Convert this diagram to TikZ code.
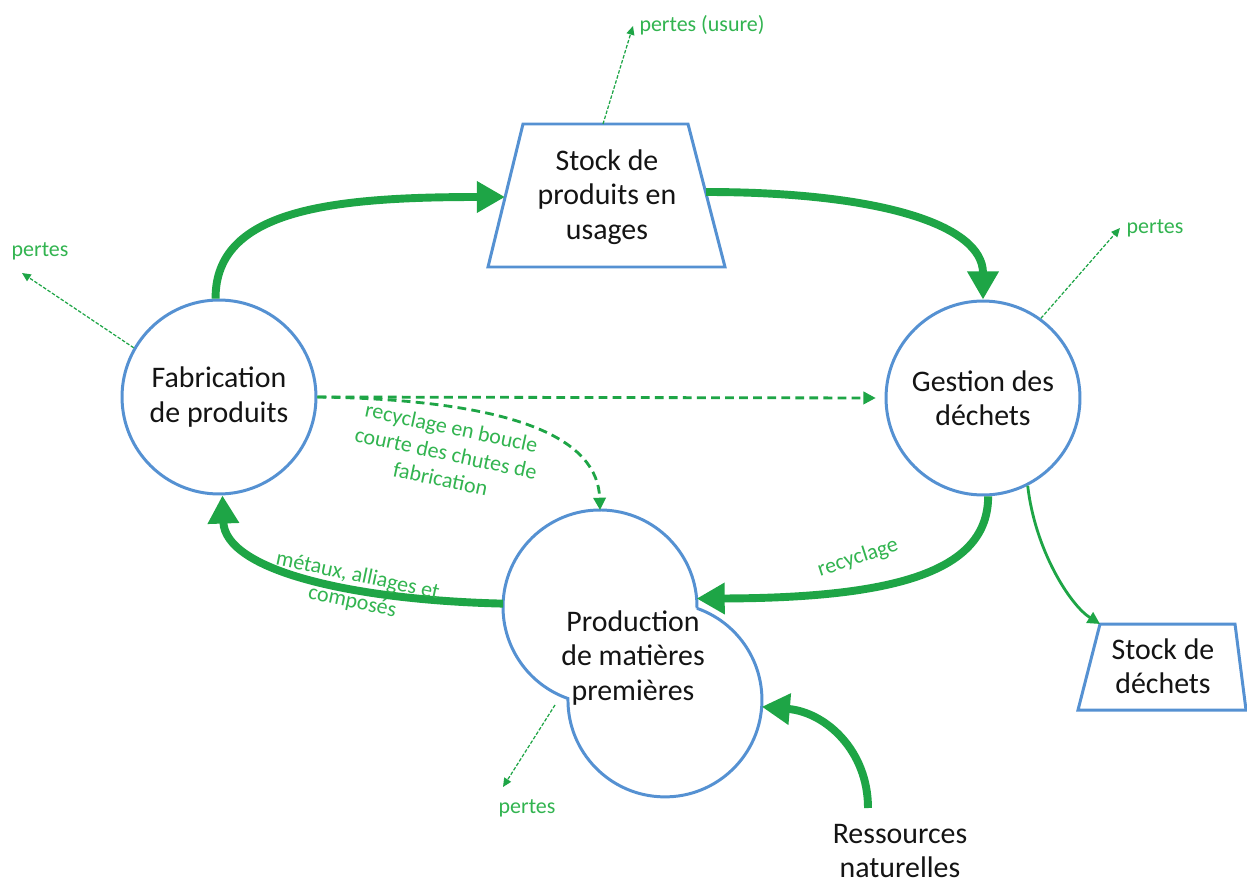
\documentclass[tikz,border=0pt]{standalone}
\usepackage{fontspec}
\setmainfont{Carlito}
\usetikzlibrary{arrows.meta}
\definecolor{gArrow}{RGB}{30,165,70}
\definecolor{gText}{RGB}{50,180,80}
\definecolor{bLine}{RGB}{85,145,210}
\definecolor{txt}{RGB}{20,20,20}
\begin{document}
\begin{tikzpicture}[x=0.02cm,y=0.02cm,
  proc/.style={circle,draw=bLine,line width=1.7pt,minimum size=3.88cm,inner sep=0pt,align=center,text=txt,font=\fontsize{17}{19.5}\selectfont},
  ghost/.style={circle,minimum size=3.88cm,inner sep=0pt,outer sep=0pt},
  lbl/.style={align=center,text=txt,font=\fontsize{17}{19.5}\selectfont},
  glbl/.style={text=gText,align=center,font=\fontsize{12.5}{15}\selectfont,inner sep=1pt},
  big/.style={draw=gArrow,line width=4.5pt,-{Triangle[length=16pt,width=17pt]}},
  mid/.style={draw=gArrow,line width=1.6pt,dash pattern=on 5pt off 3pt,-{Triangle[length=7pt,width=7pt]}},
  thinsolid/.style={draw=gArrow,line width=1.6pt,-{Triangle[length=7pt,width=7pt]}},
  loss/.style={draw=gArrow,line width=0.7pt,dash pattern=on 2pt off 1pt,-{Triangle[length=5pt,width=4.5pt]}},
  box/.style={draw=bLine,line width=1.7pt,line join=miter}
]
\fill[white] (0,0) rectangle (1247,-879);
\useasboundingbox (0,0) rectangle (1247,-879);

% main nodes
\node[proc] (fab) at (219,-397) {Fabrication\\de produits};
\node[proc] (ges) at (983,-398) {Gestion des\\déchets};

% production shape (two overlapping circles)
\node[ghost] (pu) at (600,-607) {};
\node[ghost] (pl) at (665,-700) {};
\draw[box] (697,-608.4) arc[start angle=-0.84,end angle=250.7,radius=97]
                        arc[start angle=179.2,end angle=430.7,radius=97] -- cycle;
\node[lbl] (prod) at (633,-658) {Production\\de matières\\premières};

% stock of products
\coordinate (s1) at (523,-124);
\coordinate (s2) at (688,-124);
\coordinate (s3) at (725,-267);
\coordinate (s4) at (488,-267);
\draw[box] (s1) -- (s2) -- (s3) -- (s4) -- cycle;
\node[lbl] (stock) at (607,-197) {Stock de\\produits en\\usages};
\coordinate (stkL) at (505,-197);
\coordinate (stkR) at (706,-192);
\coordinate (stkT) at (603,-124);

% stock of waste
\coordinate (d1) at (1100,-624);
\coordinate (d2) at (1235,-624);
\coordinate (d3) at (1246,-710);
\coordinate (d4) at (1078,-710);
\draw[box] (d1) -- (d2) -- (d3) -- (d4) -- cycle;
\node[lbl] (sdech) at (1163,-666) {Stock de\\déchets};

% natural resources
\node[lbl] (res) at (900,-851) {Ressources\\naturelles};
\coordinate (resTop) at (868,-808);

% main flows
\draw[big] (fab.92) .. controls (215,-210) and (330,-197) .. (stkL);
\draw[big] (stkR) .. controls (880,-192) and (983,-225) .. (ges.north);
\draw[big] (ges.-87) .. controls (988,-570) and (900,-598) .. (pu.5);
\draw[big] (pu.178) .. controls (350,-600) and (225,-570) .. (fab.-88);
\draw[big] (resTop) .. controls (868,-750) and (825,-712) .. (pl.-4);

% dashed flows
\draw[mid,shorten >=5pt] (fab.east) -- (ges.west);
\draw[mid] (fab.east) .. controls (520,-400) and (598,-440) .. (pu.north);
\draw[thinsolid] (ges.-63) .. controls (1035,-550) and (1070,-605) .. (d1);

% labels on flows
\node[glbl,rotate=-12] (lblboucle) at (446,-453) {recyclage en boucle\\courte des chutes de\\fabrication};
\node[glbl,rotate=-12] (lblmet) at (355,-589) {métaux, alliages et\\composés};
\node[glbl,rotate=18] (lblrec) at (858,-558) {recyclage};

% losses
\coordinate (tipL) at (22,-273);
\coordinate (tipT) at (633,-26);
\coordinate (tipR) at (1120,-228);
\coordinate (tipB) at (503,-787);
\coordinate (prodLoss) at (555,-705);
\draw[loss] (fab.150) -- (tipL);
\draw[loss] (stkT) -- (tipT);
\draw[loss] (ges.54) -- (tipR);
\draw[loss] (prodLoss) -- (tipB);
\node[glbl] (pL) at (40,-251) {pertes};
\node[glbl] (pT) at (702,-25) {pertes (usure)};
\node[glbl] (pR) at (1155,-228) {pertes};
\node[glbl] (pB) at (527,-808) {pertes};
\end{tikzpicture}
\end{document}
